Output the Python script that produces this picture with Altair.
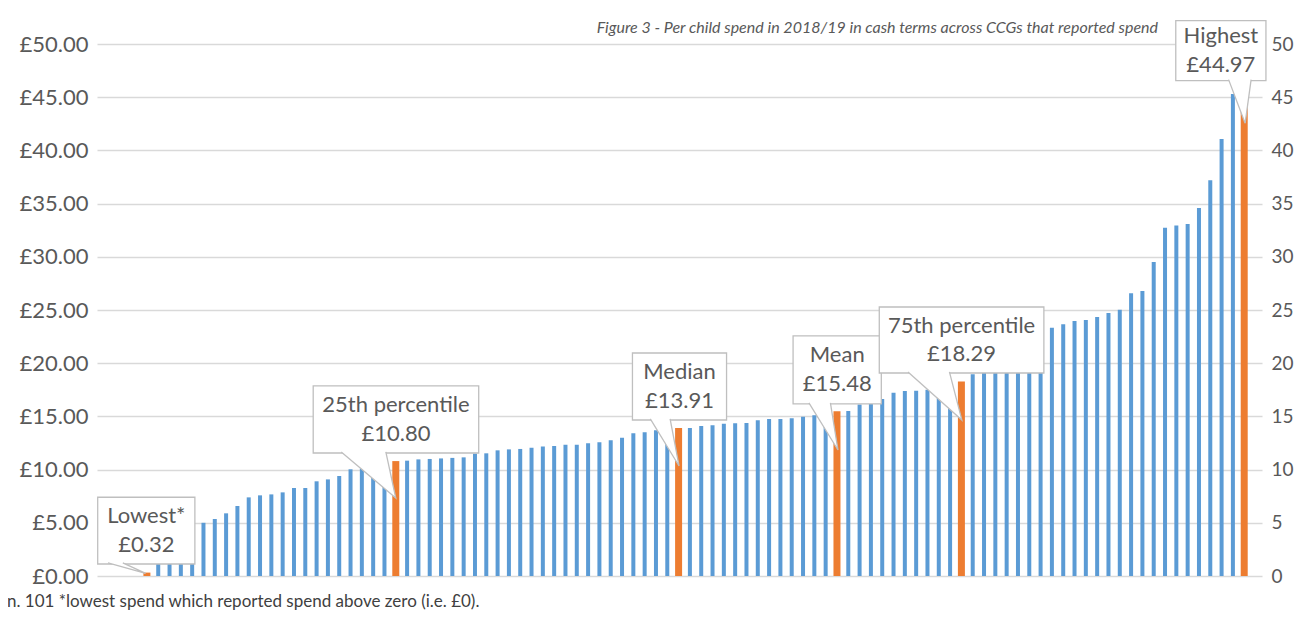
import altair as alt
import pandas as pd

# ---- data ----
spend = [0.32, 1.20, 2.10, 3.00, 4.10, 5.00, 5.36, 5.89, 6.58, 7.39,
         7.58, 7.67, 7.86, 8.27, 8.27, 8.90, 9.08, 9.40, 10.03, 10.10,
         10.30, 10.55, 10.80, 10.84, 10.96, 11.00, 11.05, 11.10, 11.15, 11.50,
         11.53, 11.81, 11.90, 11.94, 12.06, 12.16, 12.22, 12.34, 12.34, 12.47,
         12.56, 12.75, 13.00, 13.41, 13.50, 13.69, 13.80, 13.91, 13.91, 14.10,
         14.16, 14.32, 14.35, 14.38, 14.63, 14.76, 14.76, 14.82, 14.97, 15.10,
         15.30, 15.48, 15.51, 16.13, 16.23, 16.64, 17.23, 17.39, 17.42, 17.50,
         17.75, 18.05, 18.29, 18.95, 19.10, 19.30, 19.60, 20.00, 20.60, 21.50,
         23.34, 23.65, 23.97, 24.06, 24.34, 24.72, 25.03, 26.57, 26.79, 29.51,
         32.74, 32.93, 33.08, 34.59, 37.19, 41.07, 45.30, 44.97]
highlight_idx = [0, 22, 47, 61, 72, 97]

callout_top = ["Lowest*", "25th percentile", "Median", "Mean", "75th percentile", "Highest"]
callout_val = ["£0.32", "£10.80", "£13.91", "£15.48", "£18.29", "£44.97"]

# callout geometry in data units (bar index, £)
box_x0 = [-4.35, 14.70, 42.92, 57.12, 64.74, 90.95]
box_x1 = [4.24, 29.33, 51.24, 64.92, 79.29, 98.92]
box_top = [7.40, 17.86, 20.96, 22.56, 25.28, 52.19]
box_bot = [1.13, 11.56, 14.66, 16.17, 19.08, 46.55]
ptr_a = [-3.44, 17.18, 44.50, 58.52, 67.28, 95.62]
ptr_b = [-2.13, 21.12, 46.25, 60.42, 70.94, 97.61]
tip_x = [-0.11, 22.00, 47.04, 61.09, 72.04, 97.08]
tip_y = [0.24, 7.33, 10.34, 11.84, 14.66, 42.55]
line_gap = 1.36  # half the spacing between the two callout lines, in £ units

TITLE = "Figure 3 - Per child spend in 2018/19 in cash terms across CCGs that reported spend"
NOTE = "n. 101 *lowest spend which reported spend above zero (i.e. £0)."

BLUE = "#5B9BD5"
ORANGE = "#ED7D31"
GRID = "#D9D9D9"
TXT = "#595959"
BORDER = "#BFBFBF"
FONT = "Lato"

bars = pd.DataFrame({
    "idx": list(range(len(spend))),
    "spend": spend,
    "kind": ["high" if i in highlight_idx else "normal" for i in range(len(spend))],
})

cx = [(a + b) / 2 for a, b in zip(box_x0, box_x1)]
cy = [(a + b) / 2 for a, b in zip(box_top, box_bot)]
boxes = pd.DataFrame({
    "cid": list(range(len(callout_top))),
    "x0": box_x0, "x1": box_x1, "top": box_top, "bot": box_bot,
    "cx": cx,
    "cy1": [v + line_gap for v in cy],
    "cy2": [v - line_gap for v in cy],
    "l1": callout_top, "l2": callout_val,
})

prow = []
for c in range(len(callout_top)):
    prow.append({"cid": c, "k": 0, "px": ptr_a[c], "py": box_bot[c] + 0.1})
    prow.append({"cid": c, "k": 1, "px": tip_x[c], "py": tip_y[c]})
    prow.append({"cid": c, "k": 2, "px": ptr_b[c], "py": box_bot[c] + 0.1})
pointers = pd.DataFrame(prow)

xs = alt.Scale(domain=[-3.97, 98.13], nice=False, zero=False)


def ys():
    return alt.Scale(domain=[0, 50], nice=False, zero=True)


ticks = list(range(0, 51, 5))

blue = alt.Chart(bars).transform_filter("datum.kind == 'normal'").mark_bar(
    size=4, color=BLUE
).encode(
    x=alt.X("idx:Q", scale=xs, axis=None),
    y=alt.Y("spend:Q", scale=ys(), axis=alt.Axis(
        orient="left", values=ticks, title=None, grid=True,
        labelExpr="'£' + format(datum.value, '.2f')", labelPadding=9,
        labelFontSize=22,
    )),
)

orange = alt.Chart(bars).transform_filter("datum.kind == 'high'").mark_bar(
    size=7, color=ORANGE
).encode(
    x=alt.X("idx:Q", scale=xs, axis=None),
    y=alt.Y("spend:Q", scale=ys(), axis=None),
)

right_axis = alt.Chart(bars).mark_point(opacity=0).encode(
    x=alt.X("idx:Q", scale=xs, axis=None),
    y=alt.Y("spend:Q", scale=ys(), axis=alt.Axis(
        orient="right", values=ticks, title=None, grid=False, format="d",
        labelPadding=9, labelFontSize=19,
    )),
)

box_layer = alt.Chart(boxes).mark_rect(fill="white", stroke=BORDER, strokeWidth=1.3).encode(
    x=alt.X("x0:Q", scale=xs, axis=None), x2="x1:Q",
    y=alt.Y("top:Q", scale=ys(), axis=None), y2="bot:Q",
)

ptr_layer = alt.Chart(pointers).mark_line(
    fill="white", stroke=BORDER, strokeWidth=1.3, interpolate="linear"
).encode(
    x=alt.X("px:Q", scale=xs, axis=None),
    y=alt.Y("py:Q", scale=ys(), axis=None),
    order="k:Q",
    detail="cid:N",
)

text1 = alt.Chart(boxes).mark_text(
    fontSize=22, font=FONT, color=TXT, baseline="middle", align="center",
).encode(
    x=alt.X("cx:Q", scale=xs, axis=None),
    y=alt.Y("cy1:Q", scale=ys(), axis=None),
    text="l1:N",
)
text2 = alt.Chart(boxes).mark_text(
    fontSize=22, font=FONT, color=TXT, baseline="middle", align="center",
).encode(
    x=alt.X("cx:Q", scale=xs, axis=None),
    y=alt.Y("cy2:Q", scale=ys(), axis=None),
    text="l2:N",
)

title_layer = alt.Chart(pd.DataFrame({"t": [TITLE]})).mark_text(
    fontSize=16, font=FONT, fontStyle="italic", color=TXT, align="right", baseline="middle",
).encode(x=alt.value(1061), y=alt.value(-16), text="t:N")

note_layer = alt.Chart(pd.DataFrame({"t": [NOTE]})).mark_text(
    fontSize=17, font=FONT, color="#404040", align="left", baseline="middle",
).encode(x=alt.value(-90), y=alt.value(558), text="t:N")

chart = alt.layer(
    blue, orange, right_axis, box_layer, ptr_layer, text1, text2, title_layer, note_layer
).resolve_scale(y="independent").properties(
    width=1165, height=532,
    autosize=alt.AutoSizeParams(type="none"),
    padding={"left": 89, "top": 36, "right": 34, "bottom": 38},
    background="white",
).configure_view(stroke=None).configure_axis(
    domain=False, ticks=False, gridColor=GRID, gridWidth=1.5,
    labelFont=FONT, labelFontSize=21, labelColor=TXT,
)

chart.save("out.html", embed_options={"renderer": "svg", "actions": False})
